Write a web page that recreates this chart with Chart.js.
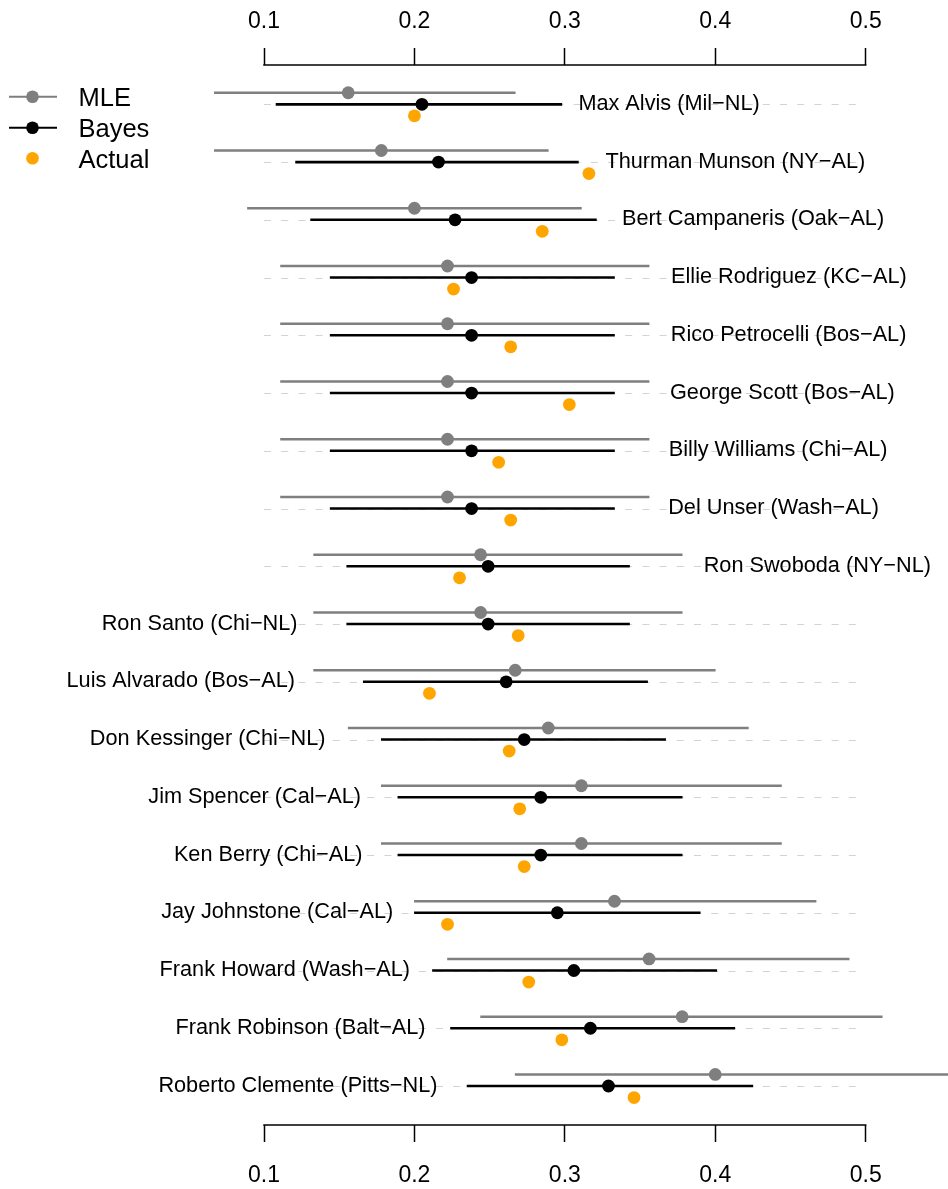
<!DOCTYPE html>
<html>
<head>
<meta charset="utf-8">
<script src="https://cdn.jsdelivr.net/npm/chart.js@4.4.1/dist/chart.umd.min.js"></script>
<style>
  html, body { margin: 0; padding: 0; background: #ffffff; }
  #wrap { width: 948px; height: 1189px; position: relative; }
</style>
</head>
<body>
<div id="wrap"><canvas id="chart" width="948" height="1189"></canvas></div>
<script>
// Batting averages: early-season estimate (MLE) with its interval,
// shrinkage (Bayes) estimate with its interval, and the season's actual average.
const players = [
  'Max Alvis (Mil\u2212NL)', 'Thurman Munson (NY\u2212AL)', 'Bert Campaneris (Oak\u2212AL)',
  'Ellie Rodriguez (KC\u2212AL)', 'Rico Petrocelli (Bos\u2212AL)', 'George Scott (Bos\u2212AL)',
  'Billy Williams (Chi\u2212AL)', 'Del Unser (Wash\u2212AL)', 'Ron Swoboda (NY\u2212NL)',
  'Ron Santo (Chi\u2212NL)', 'Luis Alvarado (Bos\u2212AL)', 'Don Kessinger (Chi\u2212NL)',
  'Jim Spencer (Cal\u2212AL)', 'Ken Berry (Chi\u2212AL)', 'Jay Johnstone (Cal\u2212AL)',
  'Frank Howard (Wash\u2212AL)', 'Frank Robinson (Balt\u2212AL)', 'Roberto Clemente (Pitts\u2212NL)'
];
const mle     = [0.156, 0.178, 0.200, 0.222, 0.222, 0.222, 0.222, 0.222, 0.244, 0.244, 0.267, 0.289, 0.311, 0.311, 0.333, 0.356, 0.378, 0.400];
const mleLo   = [0.067, 0.067, 0.089, 0.111, 0.111, 0.111, 0.111, 0.111, 0.133, 0.133, 0.133, 0.156, 0.178, 0.178, 0.200, 0.222, 0.244, 0.267];
const mleHi   = [0.267, 0.289, 0.311, 0.356, 0.356, 0.356, 0.356, 0.356, 0.378, 0.378, 0.400, 0.422, 0.444, 0.444, 0.467, 0.489, 0.511, 0.556];
const bayes   = [0.205, 0.216, 0.227, 0.238, 0.238, 0.238, 0.238, 0.238, 0.249, 0.249, 0.261, 0.273, 0.284, 0.284, 0.295, 0.306, 0.317, 0.329];
const bayesLo = [0.108, 0.121, 0.131, 0.144, 0.144, 0.144, 0.144, 0.144, 0.155, 0.155, 0.166, 0.178, 0.189, 0.189, 0.200, 0.212, 0.224, 0.235];
const bayesHi = [0.298, 0.309, 0.321, 0.333, 0.333, 0.333, 0.333, 0.333, 0.343, 0.343, 0.355, 0.367, 0.378, 0.378, 0.390, 0.401, 0.413, 0.425];
const actual  = [0.200, 0.316, 0.285, 0.226, 0.264, 0.303, 0.256, 0.264, 0.230, 0.269, 0.210, 0.263, 0.270, 0.273, 0.222, 0.276, 0.298, 0.346];

const tickValues = [0.1, 0.2, 0.3, 0.4, 0.5];
const tickLabels = ['0.1', '0.2', '0.3', '0.4', '0.5'];
const legendNames = ['MLE', 'Bayes', 'Actual'];

// Name placement: which side of the intervals, and the value where the text is anchored.
const labelSide   = ['right','right','right','right','right','right','right','right','right',
                     'left','left','left','left','left','left','left','left','left'];
const labelAnchor = [0.309, 0.327, 0.338, 0.3706, 0.3704, 0.3699, 0.3691, 0.3687, 0.3923,
                     0.1223, 0.1206, 0.1409, 0.1645, 0.1655, 0.1859, 0.1971, 0.2074, 0.2153];

const GRAY = '#7f7f7f', BLACK = '#000000', ORANGE = '#ffa500';
const FONT = '"Liberation Sans", Arial, Helvetica, sans-serif';
const ROW_SHIFT = 0.2;       // MLE row sits above, actual below the Bayes row
const PX_PER_UNIT = 1504.2;  // horizontal scale: pixels per unit of average
const X_MIN = 0.1 - 264 / PX_PER_UNIT;
const X_MAX = 0.1 + (948 - 264) / PX_PER_UNIT;

const rowOf = k => k + 1;

const intervalSet = (lo, hi, shift, color, order) => ({
  type: 'bar',
  indexAxis: 'y',
  data: lo.map((v, k) => ({ x: [v, hi[k]], y: rowOf(k) + shift })),
  backgroundColor: color,
  borderWidth: 0,
  barThickness: 2,
  grouped: false,
  order: order,
  xAxisID: 'x', yAxisID: 'y'
});

const pointSet = (vals, shift, color, order) => ({
  type: 'scatter',
  data: vals.map((v, k) => ({ x: v, y: rowOf(k) + shift })),
  backgroundColor: color,
  borderWidth: 0,
  pointRadius: 6.4,
  pointHoverRadius: 6.4,
  order: order,
  xAxisID: 'x', yAxisID: 'y'
});

const axisOpts = (position, boxHeight, pad) => ({
  type: 'linear',
  position: position,
  min: X_MIN,
  max: X_MAX,
  offset: false,
  afterBuildTicks: s => { s.ticks = tickValues.map(v => ({ value: v })); },
  afterFit: s => { s.height = boxHeight; },
  ticks: {
    callback: (v, i) => tickLabels[i],
    font: { family: FONT, size: 23 },
    color: '#000',
    padding: pad,
    maxRotation: 0,
    autoSkip: false
  },
  grid: { display: true, drawOnChartArea: false, drawTicks: true, tickLength: 17, tickColor: '#000', tickWidth: 1.5 },
  border: { display: false }
});

// Dashed guides, axis lines, player names and the legend.
const decorations = {
  id: 'decorations',
  beforeDatasetsDraw(chart) {
    const { ctx } = chart;
    const xs = chart.scales.x, ys = chart.scales.y;
    ctx.save();
    ctx.strokeStyle = '#d3d3d3';
    ctx.lineWidth = 1.2;
    ctx.setLineDash([7, 10.2]);
    players.forEach((p, k) => {
      const y = Math.round(ys.getPixelForValue(rowOf(k))) + 0.5;
      ctx.beginPath();
      ctx.moveTo(xs.getPixelForValue(tickValues[0]), y);
      ctx.lineTo(xs.getPixelForValue(tickValues[tickValues.length - 1]), y);
      ctx.stroke();
    });
    ctx.restore();
  },
  afterDatasetsDraw(chart) {
    const { ctx } = chart;
    const xs = chart.scales.x, ys = chart.scales.y;
    ctx.save();
    ctx.fillStyle = '#000';
    ctx.font = '21.7px ' + FONT;
    ctx.textBaseline = 'alphabetic';
    players.forEach((p, k) => {
      ctx.textAlign = labelSide[k] === 'right' ? 'left' : 'right';
      ctx.fillText(p, xs.getPixelForValue(labelAnchor[k]), ys.getPixelForValue(rowOf(k)) + 5.7);
    });
    ctx.restore();
  },
  afterDraw(chart) {
    const { ctx, chartArea } = chart;
    const xs = chart.scales.x;
    const a = xs.getPixelForValue(tickValues[0]);
    const b = xs.getPixelForValue(tickValues[tickValues.length - 1]);
    ctx.save();
    ctx.strokeStyle = '#000';
    ctx.lineWidth = 1.5;
    [chartArea.top, chartArea.bottom].forEach(y => {
      ctx.beginPath();
      ctx.moveTo(a - 0.75, y);
      ctx.lineTo(b + 0.75, y);
      ctx.stroke();
    });

    // legend
    const colors = [GRAY, BLACK, ORANGE];
    const rows = [96.7, 127.7, 158.3];
    ctx.font = '25.5px ' + FONT;
    ctx.textAlign = 'left';
    ctx.textBaseline = 'alphabetic';
    legendNames.forEach((name, i) => {
      const y = rows[i];
      if (i < 2) {
        ctx.strokeStyle = colors[i];
        ctx.lineWidth = 2;
        ctx.beginPath();
        ctx.moveTo(9, y);
        ctx.lineTo(57, y);
        ctx.stroke();
      }
      ctx.fillStyle = colors[i];
      ctx.beginPath();
      ctx.arc(32.5, y, 6.3, 0, Math.PI * 2);
      ctx.fill();
      ctx.fillStyle = '#000';
      ctx.fillText(name, 78.5, y + 9.3);
    });
    ctx.restore();
  }
};

new Chart(document.getElementById('chart'), {
  type: 'scatter',
  data: {
    datasets: [
      intervalSet(mleLo, mleHi, -ROW_SHIFT, GRAY, 5),
      pointSet(mle, -ROW_SHIFT, GRAY, 4),
      intervalSet(bayesLo, bayesHi, 0, BLACK, 3),
      pointSet(bayes, 0, BLACK, 2),
      pointSet(actual, ROW_SHIFT, ORANGE, 1)
    ]
  },
  options: {
    responsive: false,
    devicePixelRatio: 1,
    animation: false,
    layout: { padding: 0, autoPadding: false },
    plugins: { legend: { display: false }, tooltip: { enabled: false } },
    scales: {
      x: axisOpts('top', 65, 13),
      x2: axisOpts('bottom', 64, 20),
      y: { type: 'linear', min: 0.3195, max: 18.675, reverse: true, offset: false, display: false }
    }
  },
  plugins: [decorations]
});
</script>
</body>
</html>
